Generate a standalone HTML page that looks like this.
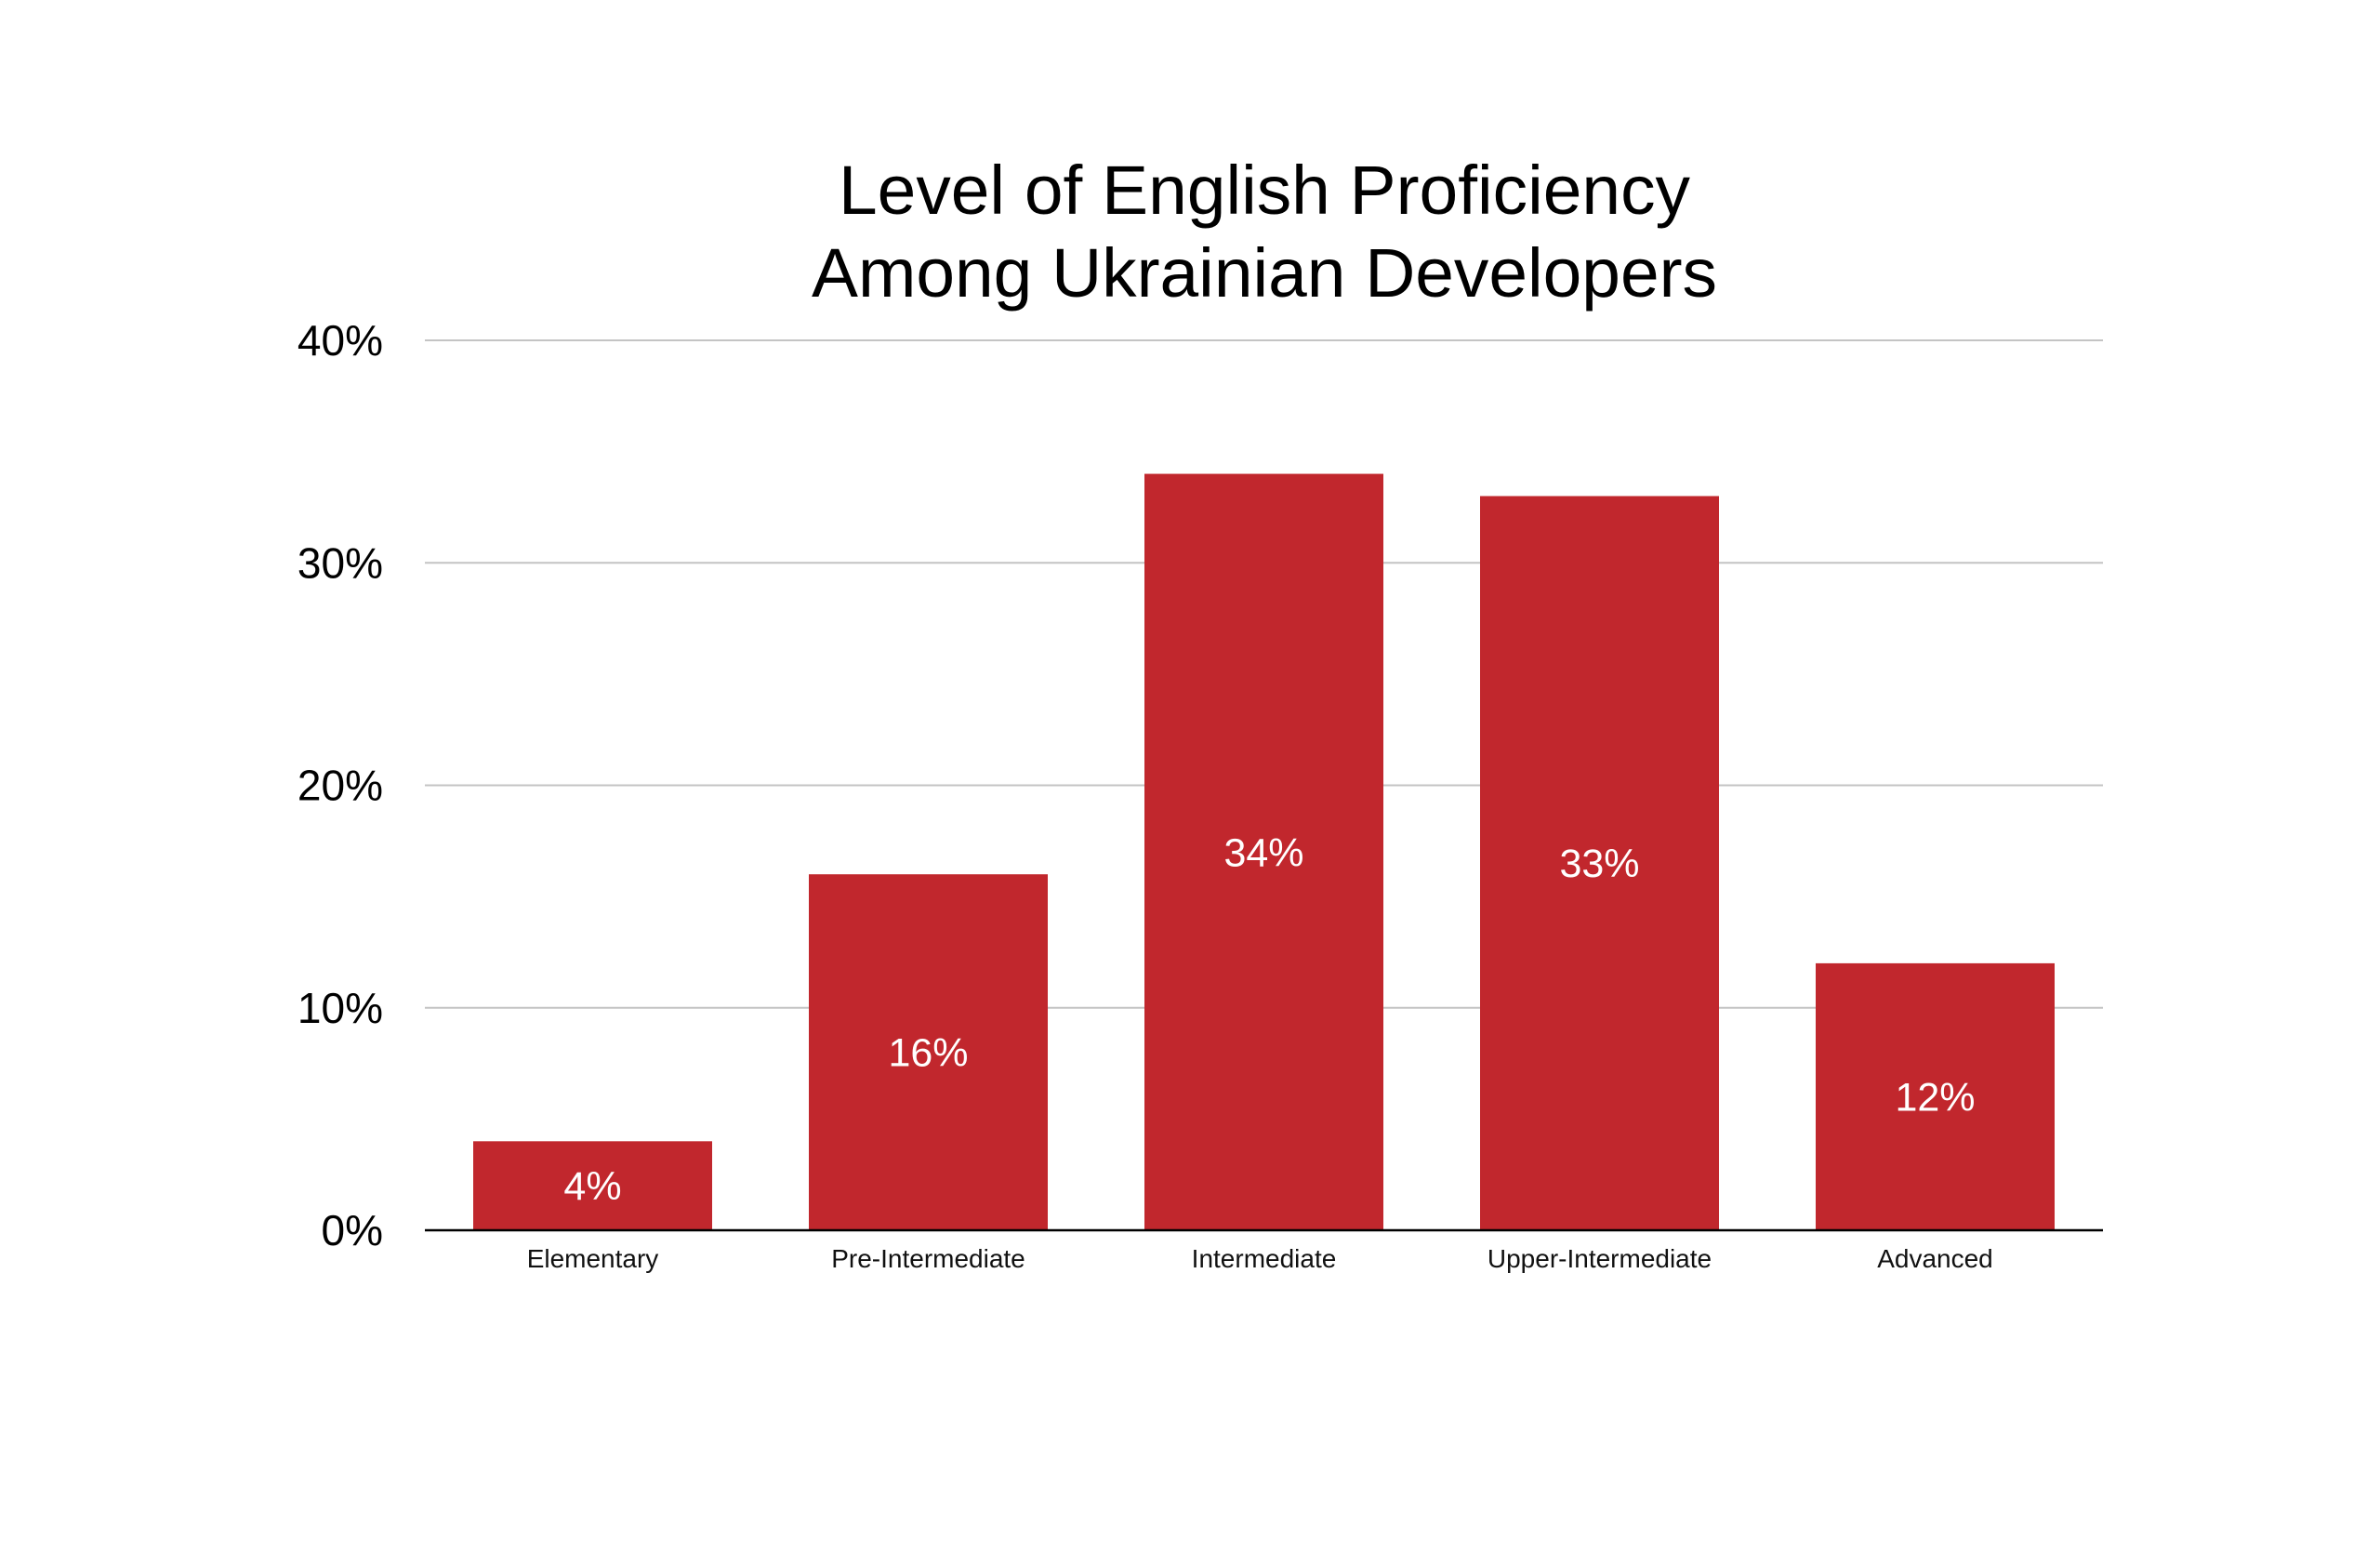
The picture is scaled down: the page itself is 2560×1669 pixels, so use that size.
<!DOCTYPE html>
<html><head><meta charset="utf-8"><style>
html,body{margin:0;padding:0;background:#fff;}
svg{display:block;font-family:"Liberation Sans",Arial,sans-serif;}
</style></head><body>
<svg id="chart" width="2560" height="1669" viewBox="0 0 2560 1669" xmlns="http://www.w3.org/2000/svg">
<rect width="2560" height="1669" fill="#fff"/>
<g>
<text x="1360" y="230" font-size="74" text-anchor="middle" fill="#000" textLength="916" lengthAdjust="spacingAndGlyphs">Level of English Proficiency</text>
<text x="1360" y="319" font-size="74" text-anchor="middle" fill="#000" textLength="974" lengthAdjust="spacingAndGlyphs">Among Ukrainian Developers</text>
</g>
<g id="grid"></g><g id="bars"></g><g id="labels"></g>
</svg>
<script>
const categories = ["Elementary","Pre-Intermediate","Intermediate","Upper-Intermediate","Advanced"];
const values = [4,16,34,33,12];
const valueLabels = ["4%","16%","34%","33%","12%"];
const ticks = [0,10,20,30,40];
const tickLabels = ["0%","10%","20%","30%","40%"];

const NS="http://www.w3.org/2000/svg";
const X0=457,X1=2262,Y0=1323,Y40=366;
function y(v){return Y0-(v/40)*(Y0-Y40);}
const band=(X1-X0)/categories.length;
function xc(i){return X0+band*(i+0.5);}
const bw=257;
function mk(tag,attrs,parent,txt){const e=document.createElementNS(NS,tag);for(const k in attrs)e.setAttribute(k,attrs[k]);if(txt!==undefined)e.textContent=txt;parent.appendChild(e);return e;}
const grid=document.getElementById('grid'),bars=document.getElementById('bars'),labels=document.getElementById('labels');
ticks.forEach((t,i)=>{
  if(t!==0){const l=mk('line',{x1:X0,x2:X1,y1:y(t),y2:y(t),stroke:'#c4c4c4','stroke-width':2},grid);
  
  }
  const tx=mk('text',{x:412,y:y(t)+16,'font-size':46,'text-anchor':'end',fill:'#000'},labels,tickLabels[i]);
  
  
});
categories.forEach((c,i)=>{
  const r=mk('rect',{x:xc(i)-bw/2,y:y(values[i]),width:bw,height:Y0-y(values[i]),fill:'#c1272d'},bars);
  
  
  const v=mk('text',{x:xc(i),y:(y(values[i])+Y0)/2+15,'font-size':43,'text-anchor':'middle',fill:'#fff'},labels,valueLabels[i]);
  
  
  const xl=mk('text',{x:xc(i),y:1363,'font-size':28,'text-anchor':'middle',fill:'#111'},labels,c);
  
  
});
const base=mk('line',{x1:X0,x2:X1,y1:Y0,y2:Y0,stroke:'#000','stroke-width':2.5},labels);


</script>
</body></html>
